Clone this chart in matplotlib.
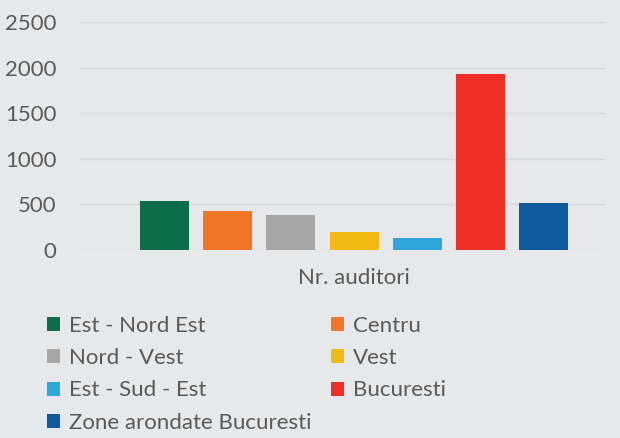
import matplotlib.pyplot as plt
import numpy as np

# Regions and number of listeners
regions = ["Est - Nord Est", "Centru", "Nord - Vest", "Vest",
           "Est - Sud - Est", "Bucuresti", "Zone arondate Bucuresti"]
values = [534, 428, 385, 201, 132, 1926, 516]
colors = ["#0b6e4a", "#f07527", "#a5a5a5", "#f5b914",
          "#2ea8dc", "#ee2e24", "#0e5a9e"]
category = "Nr. auditori"

bg = "#e6e8ea"
txt = "#595959"

plt.rcParams["font.family"] = ["Lato", "DejaVu Sans"]

fig = plt.figure(figsize=(6.2, 4.38), dpi=100, facecolor=bg)
ax = fig.add_axes([80 / 620, 1 - 250 / 438, 525 / 620, 228 / 438], facecolor=bg)

step = 0.632
width = 0.49
handles = []
for i, (name, v, c) in enumerate(zip(regions, values, colors)):
    b = ax.bar((i - 3) * step, v, width=width, color=c, label=name, zorder=3)
    handles.append(b)

ax.set_ylim(0, 2500)
ax.set_xlim(-2.74, 2.51)
ax.set_yticks(range(0, 2501, 500))
ax.set_xticks([0])
ax.set_xticklabels([category])
ax.tick_params(axis="both", length=0, labelsize=16, colors=txt)
ax.tick_params(axis="x", pad=13)
ax.tick_params(axis="y", pad=17)
ax.grid(axis="y", color="#d4d6d8", linewidth=1, zorder=0)
for s in ax.spines.values():
    s.set_visible(False)

# row-major legend order with two columns
order = [0, 2, 4, 6, 1, 3, 5]
fig.legend([handles[i] for i in order], [regions[i] for i in order],
           ncol=2, loc="upper left", bbox_to_anchor=(27 / 620, 1 - 296 / 438),
           frameon=False, fontsize=16, labelcolor=txt,
           handlelength=0.6, handleheight=0.6, handletextpad=0.4,
           columnspacing=0.85, labelspacing=0.55)

fig.savefig("out.png", dpi=100, facecolor=bg)
